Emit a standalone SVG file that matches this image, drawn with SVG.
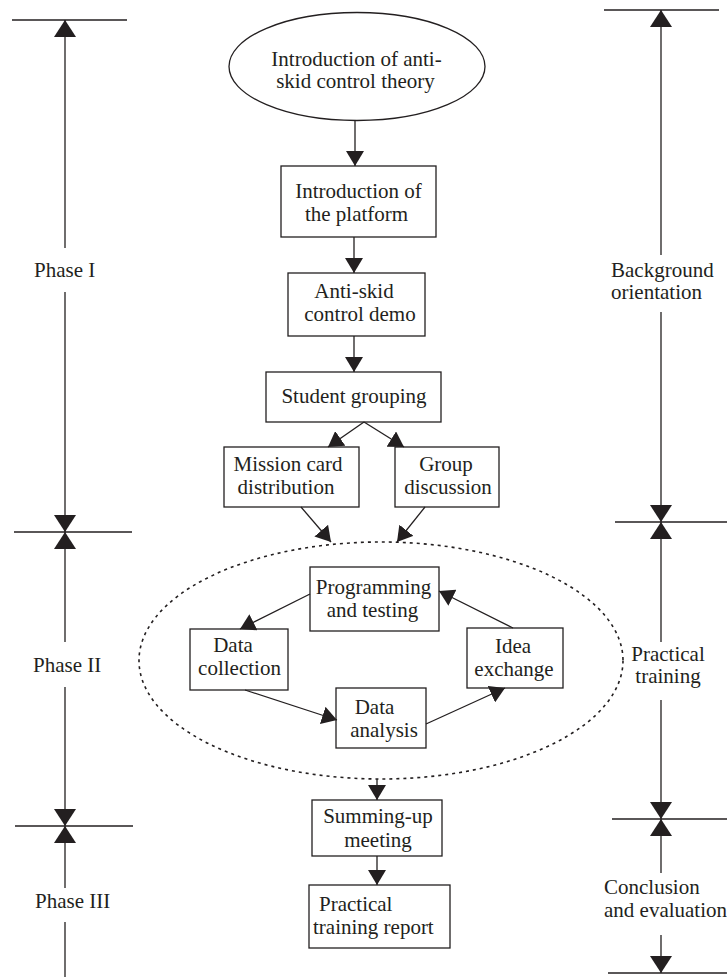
<svg xmlns="http://www.w3.org/2000/svg" width="727" height="977" viewBox="0 0 727 977">
<style>
  text { font-family: "Liberation Serif", "Times New Roman", serif; font-size: 21px; fill: #231f20; text-anchor: middle; }
  text.l { text-anchor: start; }
  .box { fill: #ffffff; stroke: #231f20; stroke-width: 1.3; }
  .ax { stroke: #231f20; stroke-width: 1.3; fill: none; }
  .axh { marker-end: url(#axhead); }
  .flow { stroke: #231f20; stroke-width: 1.3; fill: none; marker-end: url(#fhead); }
  .dots { fill: none; stroke: #231f20; stroke-width: 1.6; stroke-dasharray: 3 4; }
</style>
<defs>
  <marker id="fhead" viewBox="0 0 15 18" refX="15" refY="9" markerWidth="15" markerHeight="18" markerUnits="userSpaceOnUse" orient="auto">
    <path d="M0,0 L15,9 L0,18 z" fill="#231f20"/>
  </marker>
  <marker id="axhead" viewBox="0 0 17 22" refX="17" refY="11" markerWidth="17" markerHeight="22" markerUnits="userSpaceOnUse" orient="auto">
    <path d="M0,0 L17,11 L0,22 z" fill="#231f20"/>
  </marker>
</defs>
<rect width="727" height="977" fill="#ffffff"/>

<g id="left-axis">
  <line class="ax" x1="12" y1="20" x2="127" y2="20"/>
  <line class="ax axh" x1="65" y1="248" x2="65" y2="20"/>
  <line class="ax axh" x1="65" y1="292" x2="65" y2="532"/>
  <line class="ax" x1="14" y1="532" x2="132" y2="532"/>
  <line class="ax axh" x1="65" y1="642" x2="65" y2="532"/>
  <line class="ax axh" x1="65" y1="687" x2="65" y2="826"/>
  <line class="ax" x1="15" y1="826" x2="133" y2="826"/>
  <line class="ax axh" x1="65" y1="888" x2="65" y2="826"/>
  <line class="ax" x1="65" y1="922" x2="65" y2="977"/>
  <text class="l" x="34" y="277">Phase I</text>
  <text class="l" x="33" y="672">Phase II</text>
  <text class="l" x="35" y="908">Phase III</text>
</g>

<g id="right-axis">
  <line class="ax" x1="604" y1="10" x2="719" y2="10"/>
  <line class="ax axh" x1="661" y1="255" x2="661" y2="10"/>
  <line class="ax axh" x1="661" y1="312" x2="661" y2="522"/>
  <line class="ax" x1="615" y1="522" x2="727" y2="522"/>
  <line class="ax axh" x1="661" y1="642" x2="661" y2="522"/>
  <line class="ax axh" x1="661" y1="700" x2="661" y2="819"/>
  <line class="ax" x1="612" y1="819" x2="727" y2="819"/>
  <line class="ax axh" x1="661" y1="873" x2="661" y2="819"/>
  <line class="ax axh" x1="661" y1="935" x2="661" y2="973"/>
  <line class="ax" x1="608" y1="973" x2="727" y2="973"/>
  <text class="l" x="611" y="277">Background</text>
  <text class="l" x="611" y="299">orientation</text>
  <text x="668" y="661">Practical</text>
  <text x="668" y="683">training</text>
  <text class="l" x="604" y="894">Conclusion</text>
  <text class="l" x="604" y="917">and evaluation</text>
</g>

<g id="practice-loop">
  <ellipse class="dots" cx="381" cy="660.5" rx="242" ry="118.5"/>
</g>

<g id="n-theory">
  <ellipse class="box" cx="357" cy="66.5" rx="128" ry="54"/>
  <text x="356.5" y="66">Introduction of anti-</text>
  <text x="355.5" y="88">skid control theory</text>
</g>
<g id="n-platform">
  <rect class="box" x="281" y="166" width="155" height="71"/>
  <text x="358.5" y="198">Introduction of</text>
  <text x="356.5" y="221">the platform</text>
</g>
<g id="n-demo">
  <rect class="box" x="288" y="273" width="137" height="63"/>
  <text x="354" y="298">Anti-skid</text>
  <text x="360" y="321">control demo</text>
</g>
<g id="n-grouping">
  <rect class="box" x="266" y="372" width="175" height="50"/>
  <text x="354" y="403">Student grouping</text>
</g>
<g id="n-mission">
  <rect class="box" x="224" y="447" width="135" height="60"/>
  <text x="288" y="471">Mission card</text>
  <text x="286" y="494">distribution</text>
</g>
<g id="n-discussion">
  <rect class="box" x="395" y="447" width="104" height="60"/>
  <text x="446" y="471">Group</text>
  <text x="448" y="494">discussion</text>
</g>
<g id="n-programming">
  <rect class="box" x="310" y="567" width="129" height="64"/>
  <text x="373.5" y="594">Programming</text>
  <text x="372.5" y="617">and testing</text>
</g>
<g id="n-collection">
  <rect class="box" x="190" y="629" width="98" height="61"/>
  <text x="233" y="652">Data</text>
  <text x="239.5" y="675">collection</text>
</g>
<g id="n-idea">
  <rect class="box" x="467" y="628" width="96" height="60"/>
  <text x="513" y="653">Idea</text>
  <text x="514" y="676">exchange</text>
</g>
<g id="n-analysis">
  <rect class="box" x="336" y="688" width="90" height="60"/>
  <text x="374.5" y="714">Data</text>
  <text x="384" y="737">analysis</text>
</g>
<g id="n-summing">
  <rect class="box" x="312" y="800" width="130" height="56"/>
  <text x="378" y="823">Summing-up</text>
  <text x="378" y="847">meeting</text>
</g>
<g id="n-report">
  <rect class="box" x="309" y="885" width="141" height="63"/>
  <text class="l" x="319" y="911">Practical</text>
  <text class="l" x="313" y="934">training report</text>
</g>

<g id="connectors">
  <line class="flow" x1="355" y1="120.5" x2="355" y2="166"/>
  <line class="flow" x1="354" y1="237" x2="354" y2="273"/>
  <line class="flow" x1="354" y1="336" x2="354" y2="372"/>
  <line class="flow" x1="364" y1="422" x2="328" y2="447"/>
  <line class="flow" x1="364" y1="422" x2="404" y2="447"/>
  <line class="flow" x1="301" y1="507" x2="331" y2="542"/>
  <line class="flow" x1="425" y1="507" x2="397" y2="542"/>
  <line class="flow" x1="310" y1="594" x2="240" y2="629"/>
  <line class="flow" x1="245" y1="690" x2="337" y2="720"/>
  <line class="flow" x1="426" y1="724" x2="505" y2="688"/>
  <line class="flow" x1="513" y1="628" x2="439" y2="591"/>
  <line class="flow" x1="377" y1="779" x2="377" y2="800"/>
  <line class="flow" x1="377" y1="856" x2="377" y2="885"/>
</g>
</svg>
